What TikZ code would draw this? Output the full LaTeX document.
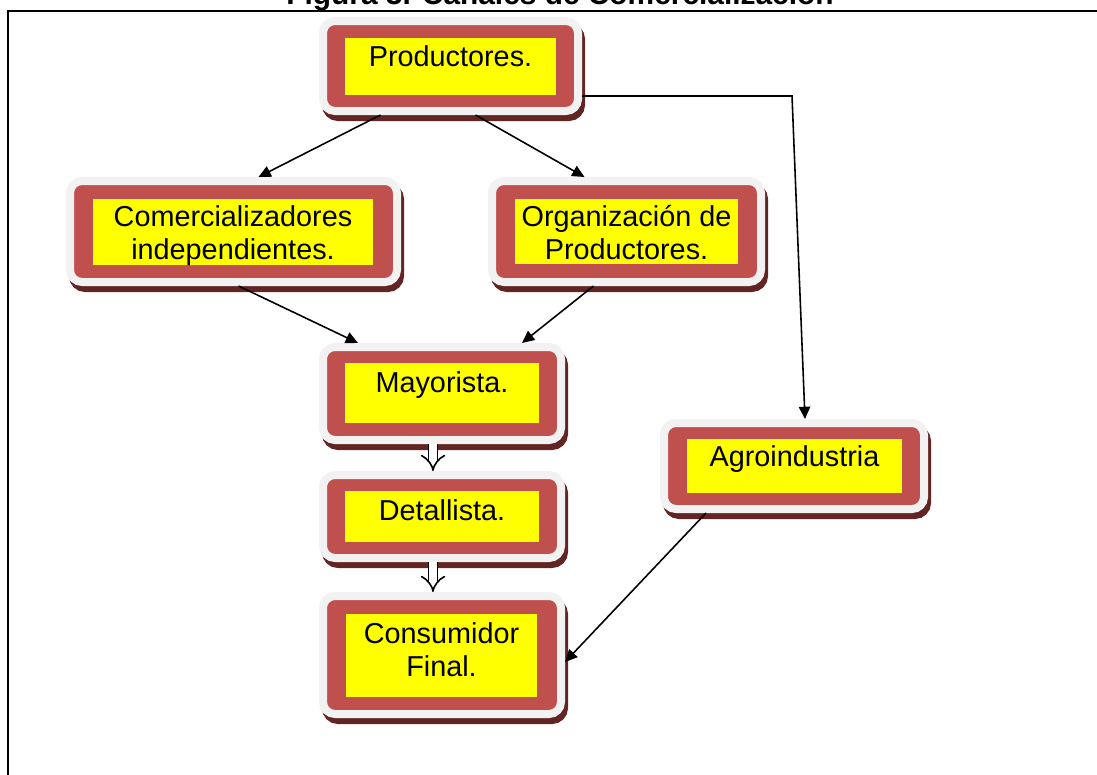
\documentclass[tikz,border=0pt]{standalone}
\usepackage{fontspec}
\setmainfont{Liberation Sans}
\usepackage{tikz}
\usetikzlibrary{arrows.meta,positioning,shadows}
\definecolor{rojocaja}{HTML}{C0504D}
\definecolor{grisborde}{HTML}{F2F2F2}
\definecolor{sombra}{HTML}{632523}
\definecolor{amarillo}{HTML}{FFFF00}
\newlength{\pix}
\setlength{\pix}{0.02cm}

\tikzset{
  canal/.style={draw=grisborde, line width=8\pix, fill=rojocaja, rounded corners=12\pix, inner sep=0pt,
    general shadow={fill=sombra, draw=sombra, line width=8\pix, shadow xshift=3\pix, shadow yshift=-6\pix}},
  texto/.style={fill=amarillo, inner sep=0pt, anchor=north, font=\fontsize{16.4}{18.8}\selectfont},
  flecha/.style={draw=black, line width=0.9pt, -{Triangle[length=7pt, width=6.5pt]}},
  doble/.style={double, double distance=4pt, line width=0.9pt, -{Implies}},
}

\begin{document}
\begin{tikzpicture}[x=0.02cm, y=-0.02cm]
  \clip (0,0) rectangle (1097,774);
  \draw[line width=2\pix] (8,780) -- (8,11) -- (1100,11);
  \node[font=\bfseries\fontsize{17}{20}\selectfont, anchor=base] (titulo) at (560,5) {Figura 3. Canales de Comercializaci\'on};

  % cajas
  \node[canal, minimum width=255\pix, minimum height=90\pix] (prod) at (450.5,66) {};
  \node[canal, minimum width=327\pix, minimum height=101\pix] (com) at (233.5,231.5) {};
  \node[canal, minimum width=269\pix, minimum height=101\pix] (org) at (626.5,231.5) {};
  \node[canal, minimum width=238\pix, minimum height=93\pix] (may) at (442,393.5) {};
  \node[canal, minimum width=238\pix, minimum height=83\pix] (det) at (442,516.5) {};
  \node[canal, minimum width=238\pix, minimum height=118\pix] (con) at (442,655) {};
  \node[canal, minimum width=260\pix, minimum height=86\pix] (agro) at (794,466) {};

  \node[texto] (prod-t) at (450.5,38) {\parbox[t][57\pix][t]{211\pix}{\vspace*{7\pix}\centering Productores.}};
  \node[texto] (com-t) at (233,199) {\parbox[t][66\pix][t]{280\pix}{\vspace*{6\pix}\centering Comercializadores\\ independientes.}};
  \node[texto] (org-t) at (626.5,199) {\parbox[t][65\pix][t]{223\pix}{\vspace*{6\pix}\centering Organizaci\'on de\\ Productores.}};
  \node[texto] (may-t) at (442,363) {\parbox[t][60\pix][t]{194\pix}{\vspace*{8\pix}\centering Mayorista.}};
  \node[texto] (det-t) at (442,491) {\parbox[t][51\pix][t]{194\pix}{\vspace*{8\pix}\centering Detallista.}};
  \node[texto] (con-t) at (441.5,614) {\parbox[t][83\pix][t]{191\pix}{\vspace*{8\pix}\centering Consumidor\\ Final.}};
  \node[texto] (agro-t) at (794.5,439) {\parbox[t][54\pix][t]{215\pix}{\vspace*{6\pix}\centering Agroindustria}};

  % conectores
  \coordinate (codo) at (792,96);
  \draw[flecha] ([xshift=-70\pix]prod.south) -- ([xshift=25\pix]com.north);
  \draw[flecha] ([xshift=25\pix]prod.south) -- ([xshift=-42\pix]org.north);
  \draw[flecha] ([yshift=-30\pix]prod.east) -- (codo) -- ([xshift=11\pix]agro.north);
  \draw[flecha] ([xshift=5\pix]com.south) -- ([xshift=-84\pix]may.north);
  \draw[flecha] ([xshift=-33\pix]org.south) -- ([xshift=80\pix]may.north);
  \draw[doble] ([xshift=-9\pix]may.south) -- ([xshift=-9\pix]det.north);
  \draw[doble] ([xshift=-9\pix]det.south) -- ([xshift=-9\pix]con.north);
  \draw[flecha] ([xshift=-88\pix]agro.south) -- ([yshift=-7\pix]con.east);
\end{tikzpicture}
\end{document}
